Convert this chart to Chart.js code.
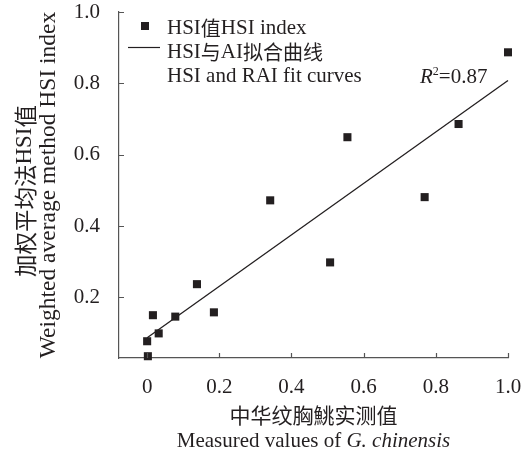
<!DOCTYPE html>
<html>
<head>
<meta charset="utf-8">
<script src="https://cdn.jsdelivr.net/npm/chart.js@4.4.1/dist/chart.umd.min.js"></script>
<style>
  body { margin: 0; background: #fff; }
</style>
</head>
<body>
<canvas id="myChart" width="528" height="454"></canvas>
<script>
// measured values (x) and weighted HSI (y)
var measured = [0.002, 0.0, 0.032, 0.016, 0.078, 0.138, 0.185, 0.507, 0.341, 0.555, 0.769, 0.863, 1.0];
var hsiValues = [0.035, 0.077, 0.099, 0.150, 0.146, 0.237, 0.158, 0.298, 0.472, 0.649, 0.481, 0.686, 0.887];
// fit line end points
var fitX = [0, 1.0];
var fitY = [0.087, 0.808];
var xTicks = [0, 0.2, 0.4, 0.6, 0.8, 1.0];
var xTickLabels = ['0', '0.2', '0.4', '0.6', '0.8', '1.0'];
var yTicks = [0.2, 0.4, 0.6, 0.8, 1.0];
var yTickLabels = ['0.2', '0.4', '0.6', '0.8', '1.0'];

var ink = '#231f20';
var serif = '"Liberation Serif", "Times New Roman", "Noto Sans CJK SC", serif';
var cjk = '"Noto Sans CJK SC", serif';

function pts(xs, ys){
    var out = [];
    for (var i = 0; i < xs.length; i++) out.push({x: xs[i], y: ys[i]});
    return out;
}

// draws a run of [text, font, dy] pieces starting at x
function drawRuns(ctx, runs, x, y){
    for (var i = 0; i < runs.length; i++) {
        ctx.font = runs[i][1];
        var dy = runs[i][2] || 0;
        ctx.fillText(runs[i][0], x, y + dy);
        x += ctx.measureText(runs[i][0]).width;
    }
    return x;
}
function runsWidth(ctx, runs){
    var w = 0;
    for (var i = 0; i < runs.length; i++) {
        ctx.font = runs[i][1];
        w += ctx.measureText(runs[i][0]).width;
    }
    return w;
}

var f21 = '21px ' + serif;
var c20 = '20px ' + cjk;

var decorations = {
    id: 'decorations',
    afterDraw: function(chart){
        var ctx = chart.ctx;
        var xs = chart.scales.x, ys = chart.scales.y;
        var area = chart.chartArea;
        ctx.save();
        // inward tick marks
        ctx.strokeStyle = '#555';
        ctx.lineWidth = 1.2;
        ctx.beginPath();
        xTicks.forEach(function(v){
            var px = Math.round(xs.getPixelForValue(v)) + 0.5;
            ctx.moveTo(px, area.bottom);
            ctx.lineTo(px, area.bottom - 5);
        });
        yTicks.forEach(function(v){
            var py = Math.round(ys.getPixelForValue(v)) + 0.5;
            ctx.moveTo(area.left, py);
            ctx.lineTo(area.left + 5, py);
        });
        ctx.stroke();

        ctx.fillStyle = ink;
        ctx.textBaseline = 'middle';
        ctx.textAlign = 'left';

        // legend
        ctx.fillRect(141, 22, 8, 8);
        ctx.strokeStyle = ink;
        ctx.lineWidth = 1.2;
        ctx.beginPath();
        ctx.moveTo(128, 47.5);
        ctx.lineTo(160, 47.5);
        ctx.stroke();
        drawRuns(ctx, [['HSI', f21], ['值', c20], ['HSI index', f21]], 167, 28);
        drawRuns(ctx, [['HSI', f21], ['与', c20], ['AI', f21], ['拟合曲线', c20]], 167, 52);
        drawRuns(ctx, [['HSI and RAI fit curves', f21]], 167, 76);

        // R squared
        drawRuns(ctx, [['R', 'italic 21px ' + serif], ['2', '12px ' + serif, -5], ['=0.87', f21]], 420, 77);

        // x title
        var cx = (area.left + area.right) / 2;
        ctx.textAlign = 'center';
        ctx.font = '21px ' + cjk;
        ctx.fillText('中华纹胸鮡实测值', cx, 415);
        ctx.textAlign = 'left';
        var r2 = [['Measured values of ', f21], ['G. chinensis', 'italic 21px ' + serif]];
        drawRuns(ctx, r2, cx - runsWidth(ctx, r2) / 2, 441);

        // y title
        ctx.save();
        ctx.translate(25, 191);
        ctx.rotate(-Math.PI / 2);
        var r1 = [['加权平均法', '22.5px ' + cjk], ['HSI', '23px ' + serif], ['值', '22.5px ' + cjk]];
        drawRuns(ctx, r1, -runsWidth(ctx, r1) / 2, 0);
        ctx.restore();
        ctx.save();
        ctx.translate(49, 185);
        ctx.rotate(-Math.PI / 2);
        ctx.textAlign = 'center';
        ctx.font = '23.5px ' + serif;
        ctx.fillText('Weighted average method HSI index', 0, 0);
        ctx.restore();

        ctx.restore();
    }
};

function noPad(s){
    s.paddingTop = 0;
    s.paddingBottom = 0;
    s.paddingLeft = 0;
    s.paddingRight = 0;
}

var ctx = document.getElementById('myChart').getContext('2d');
var chart = new Chart(ctx, {
    type: 'scatter',
    data: {
        datasets: [
            {
                data: pts(measured, hsiValues),
                pointStyle: 'rect',
                pointRadius: 5.7,
                pointBorderWidth: 0,
                backgroundColor: ink,
                borderColor: ink,
                clip: false
            },
            {
                data: pts(fitX, fitY),
                showLine: true,
                pointRadius: 0,
                borderColor: ink,
                borderWidth: 1.3,
                backgroundColor: ink,
                clip: false
            }
        ]
    },
    options: {
        responsive: false,
        animation: false,
        events: [],
        layout: { padding: { left: 0, top: 12, right: 20, bottom: 0 } },
        plugins: { legend: { display: false }, tooltip: { enabled: false } },
        scales: {
            x: {
                type: 'linear',
                min: -0.078,
                max: 1.0,
                afterBuildTicks: function(s){ s.ticks = xTicks.map(function(v){ return {value: v}; }); },
                afterFit: function(s){ s.height = 96; noPad(s); },
                grid: { display: false, drawTicks: false },
                border: { display: true, color: '#555', width: 1.2 },
                ticks: {
                    padding: 17,
                    color: ink,
                    font: { family: serif, size: 21 },
                    maxRotation: 0,
                    callback: function(v){ return xTickLabels[xTicks.indexOf(v)]; }
                }
            },
            y: {
                type: 'linear',
                min: 0.03,
                max: 1.0,
                afterBuildTicks: function(s){ s.ticks = yTicks.map(function(v){ return {value: v}; }); },
                afterFit: function(s){ s.width = 119; noPad(s); },
                grid: { display: false, drawTicks: false },
                border: { display: true, color: '#555', width: 1.2 },
                ticks: {
                    padding: 19,
                    color: ink,
                    font: { family: serif, size: 21 },
                    callback: function(v){ return yTickLabels[yTicks.indexOf(v)]; }
                }
            }
        }
    },
    plugins: [decorations]
});
</script>
</body>
</html>
